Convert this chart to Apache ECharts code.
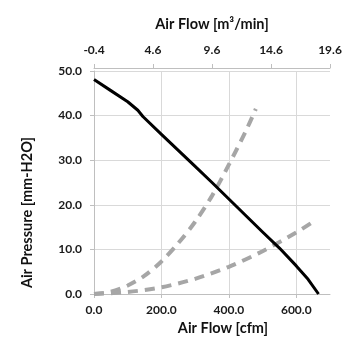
<!DOCTYPE html>
<html>
<head>
<meta charset="utf-8">
<script src="https://cdn.jsdelivr.net/npm/echarts@6/dist/echarts.min.js"></script>
<style>html,body{margin:0;padding:0;background:#fff}#c{width:355px;height:355px}</style>
</head>
<body>
<div id="c"></div>
<script>
// Fan curve (cfm, mm-H2O)
const fanCurve = [[0,48.1],[50,45.6],[100,43.1],[130,41.2],[145,39.8],[200,35.8],[250,32.2],[300,28.6],[350,25.0],[400,21.3],[450,17.6],[500,13.9],[550,10.3],[600,6.3],[635,3.3],[666,0]];
// System resistance curves (cfm, mm-H2O)
const systemHigh = [[0,0],[50,0.5],[100,1.9],[150,4.1],[200,7.3],[250,11.4],[300,16.2],[350,22],[400,29],[450,36.5],[480,41.5]];
const systemLow = [[0,0],[100,0.45],[200,1.5],[300,3.4],[400,6.1],[500,9.6],[600,13.8],[650,16.2]];

const cfmTicks = {min:0, max:700, interval:200};
const m3Ticks = {min:-0.4, max:19.6, interval:5};
const pTicks = {min:0, max:50, interval:10};

const FONT = 'Lato';
const txt = {fontFamily: FONT, fontWeight: 'bold', fontSize: 12, color: '#1a1a1a'};
const nameTxt = {fontFamily: FONT, fontWeight: 'bold', fontSize: 14.5, color: '#111'};
const axisLine = {show: true, lineStyle: {color: '#bfbfbf', width: 1}};
const grid = '#d9d9d9';

const chart = echarts.init(document.getElementById('c'), null, {renderer: 'canvas'});
chart.setOption({
  animation: false,
  backgroundColor: '#fff',
  grid: {left: 94, right: 25, top: 71, bottom: 61},
  xAxis: [{
    type: 'value', position: 'bottom',
    min: cfmTicks.min, max: cfmTicks.max, interval: cfmTicks.interval,
    name: 'Air Flow [cfm]', nameLocation: 'middle', nameGap: 26,
    nameTextStyle: Object.assign({padding: [0,0,0,22]}, nameTxt),
    axisLine: axisLine,
    axisTick: {show: true, inside: false, length: 4, lineStyle: {color: '#bfbfbf'}},
    axisLabel: Object.assign({margin: 10, showMaxLabel: false, formatter: v => v.toFixed(1)}, txt),
    splitLine: {show: true, lineStyle: {color: [grid, grid, grid, grid, 'rgba(0,0,0,0)'], width: 1}}
  }, {
    type: 'value', position: 'top', offset: 3,
    min: m3Ticks.min, max: m3Ticks.max, interval: m3Ticks.interval,
    name: 'Air Flow [m³/min]', nameLocation: 'middle', nameGap: 36,
    nameTextStyle: nameTxt,
    axisLine: axisLine,
    axisTick: {show: true, inside: false, length: 4, lineStyle: {color: '#bfbfbf'}},
    axisLabel: Object.assign({margin: 12, formatter: v => v.toFixed(1)}, txt),
    splitLine: {show: false}
  }],
  yAxis: [{
    type: 'value',
    min: pTicks.min, max: pTicks.max, interval: pTicks.interval,
    name: 'Air Pressure [mm-H2O]', nameLocation: 'middle', nameGap: 59,
    nameTextStyle: Object.assign({padding: [0,60,0,0]}, nameTxt),
    axisLine: axisLine,
    axisTick: {show: true, inside: false, length: 4, lineStyle: {color: '#bfbfbf'}},
    axisLabel: Object.assign({margin: 12, formatter: v => v.toFixed(1)}, txt),
    splitLine: {show: true, lineStyle: {color: grid, width: 1}}
  }],
  series: [{
    type: 'line', xAxisIndex: 0, data: systemHigh, showSymbol: false, smooth: 0.3,
    lineStyle: {color: '#a6a6a6', width: 4, type: [10, 7]}, z: 2
  }, {
    type: 'line', xAxisIndex: 0, data: systemLow, showSymbol: false, smooth: 0.3,
    lineStyle: {color: '#a6a6a6', width: 4, type: [10, 7]}, z: 2
  }, {
    type: 'line', xAxisIndex: 0, data: fanCurve, showSymbol: false, smooth: false,
    lineStyle: {color: '#000', width: 3, join: 'round'}, z: 3
  }]
});
</script>
</body>
</html>
